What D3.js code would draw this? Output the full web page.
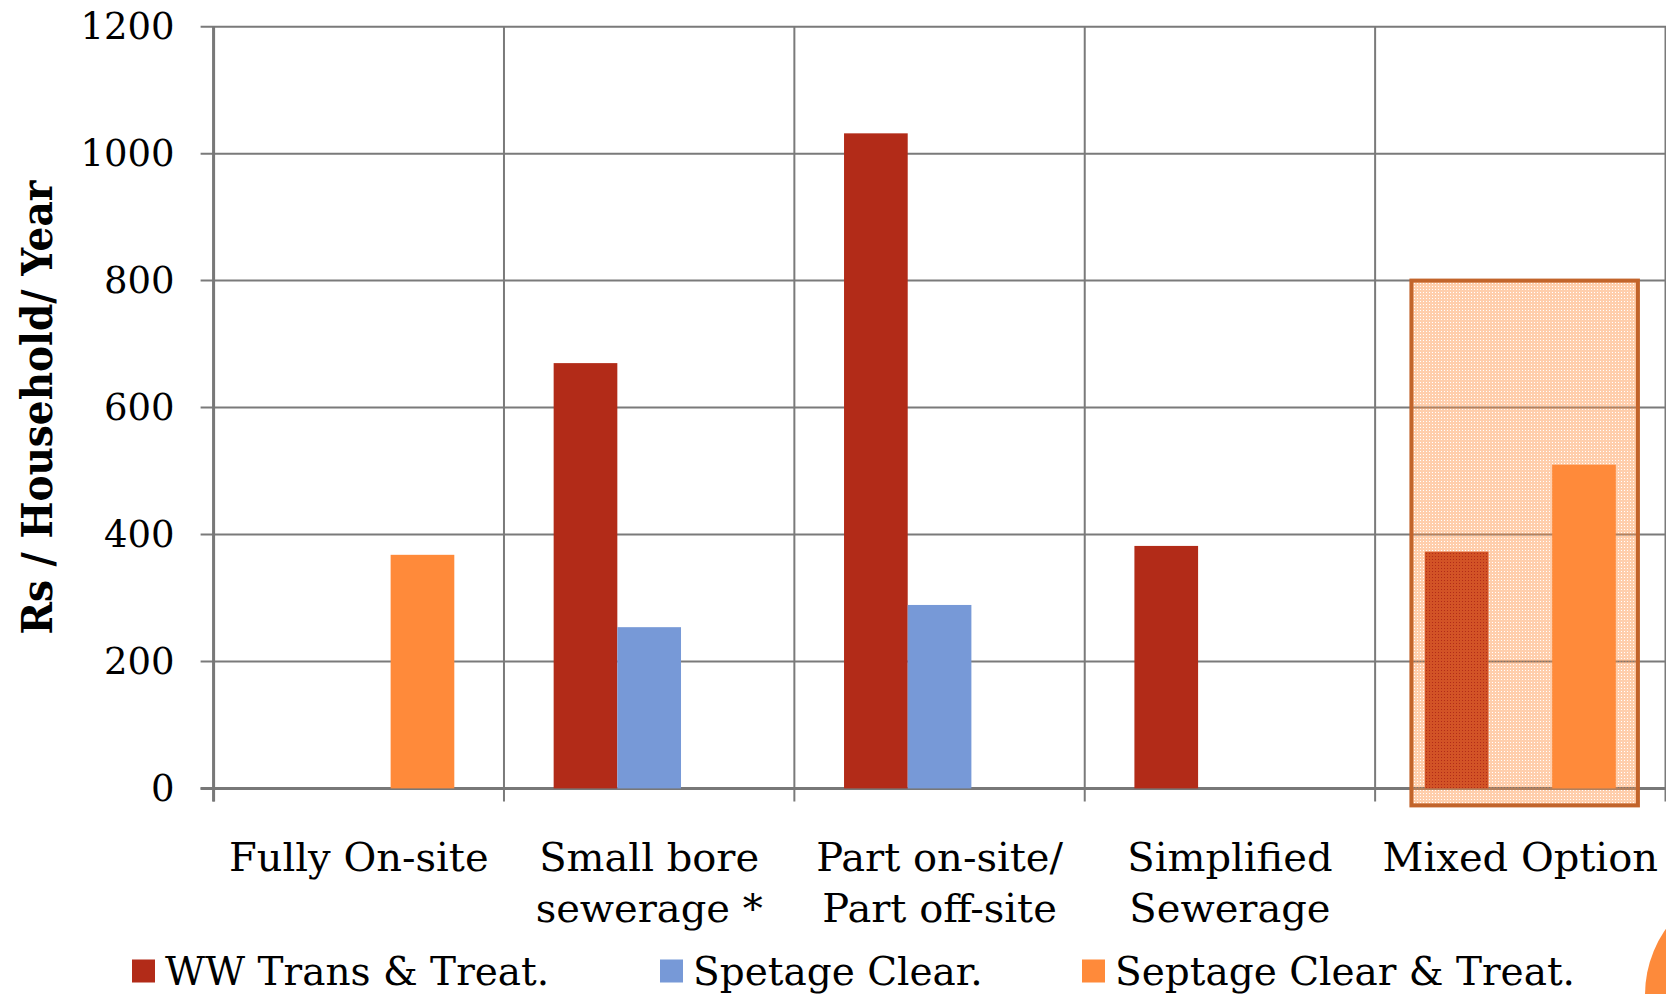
<!DOCTYPE html>
<html>
<head>
<meta charset="utf-8">
<script src="https://cdn.jsdelivr.net/npm/d3@7/dist/d3.min.js"></script>
<style>
  html, body { margin: 0; padding: 0; background: #ffffff; }
  svg { display: block; }
  text { font-family: "DejaVu Serif", "Liberation Serif", serif; fill: #000; }
</style>
</head>
<body>
<svg id="chart" width="1666" height="994"></svg>
<script>
// ---- data ----
const categories = ["Fully On-site", "Small bore sewerage *", "Part on-site/ Part off-site", "Simplified Sewerage", "Mixed Option"];
const categoryLines = [["Fully On-site"], ["Small bore", "sewerage *"], ["Part on-site/", "Part off-site"], ["Simplified", "Sewerage"], ["Mixed Option"]];
const seriesNames = ["WW Trans & Treat.", "Spetage Clear.", "Septage Clear & Treat."];
const wwTransTreat = [null, 670, 1032, 382, 373];
const spetageClear = [null, 254, 289, null, null];
const septageClearTreat = [368, null, null, null, 510];
const yTicks = [0, 200, 400, 600, 800, 1000, 1200];
const highlightCategory = "Mixed Option";
const highlightTop = 800;

// ---- layout ----
const W = 1666, H = 994;
const plotLeft = 213.6, plotRight = 1665.5, plotTop = 26.7, plotBottom = 788.4;
const colors = { "WW Trans & Treat.": "#B22B18", "Spetage Clear.": "#7799D7", "Septage Clear & Treat.": "#FF8A3A" };
const gridColor = "#7a7a7a";

const seriesValues = [wwTransTreat, spetageClear, septageClearTreat];
const rows = [];
seriesValues.forEach((vals, si) => vals.forEach((v, ci) => {
  if (v != null) rows.push({ series: seriesNames[si], category: categories[ci], value: v });
}));

const svg = d3.select("#chart");

const x = d3.scaleBand().domain(categories).range([plotLeft, plotRight]).paddingInner(0).paddingOuter(0);
const xs = d3.scaleBand().domain(seriesNames).range([0, x.bandwidth()]).paddingInner(0).paddingOuter(0.78);
const y = d3.scaleLinear().domain([0, 1200]).range([plotBottom, plotTop]);

// squeeze a text element horizontally by a factor
function condense(sel, f) {
  sel.each(function () {
    const len = this.getComputedTextLength();
    d3.select(this).attr("textLength", len * f).attr("lengthAdjust", "spacingAndGlyphs");
  });
}

// horizontal gridlines (extend left past the axis as tick marks)
svg.append("g")
  .selectAll("line")
  .data(yTicks)
  .join("line")
  .attr("x1", plotLeft - 13).attr("x2", W)
  .attr("y1", d => y(d)).attr("y2", d => y(d))
  .attr("stroke", gridColor).attr("stroke-width", 2);

// vertical gridlines at category boundaries, extending below the axis as ticks
const boundaries = categories.map(c => x(c)).concat([x(categories[categories.length - 1]) + x.bandwidth()]);
svg.append("g")
  .selectAll("line")
  .data(boundaries)
  .join("line")
  .attr("x1", d => d).attr("x2", d => d)
  .attr("y1", plotTop).attr("y2", plotBottom + 13)
  .attr("stroke", gridColor).attr("stroke-width", 2);

// axis lines
svg.append("line").attr("x1", plotLeft).attr("x2", plotLeft).attr("y1", plotTop).attr("y2", plotBottom + 13)
  .attr("stroke", "#787878").attr("stroke-width", 3);
svg.append("line").attr("x1", plotLeft - 13).attr("x2", W).attr("y1", plotBottom).attr("y2", plotBottom)
  .attr("stroke", "#787878").attr("stroke-width", 3);

// y tick labels
const yAxis = d3.axisLeft(y).tickValues(yTicks).tickSize(13).tickPadding(26).tickFormat(d3.format("d"));
const ya = svg.append("g").attr("transform", `translate(${plotLeft},0)`).call(yAxis);
ya.select(".domain").remove();
ya.selectAll(".tick line").remove();
ya.selectAll(".tick text")
  .attr("font-family", "DejaVu Serif").attr("font-size", 37).attr("fill", "#000");

// bars
svg.append("g")
  .selectAll("rect")
  .data(rows)
  .join("rect")
  .attr("x", d => x(d.category) + xs(d.series))
  .attr("width", xs.bandwidth())
  .attr("y", d => y(d.value))
  .attr("height", d => y(0) - y(d.value))
  .attr("fill", d => colors[d.series]);

// dotted translucent fill for the highlight box
const defs = svg.append("defs");
const pat = defs.append("pattern").attr("id", "dots").attr("patternUnits", "userSpaceOnUse")
  .attr("width", 3).attr("height", 3);
pat.append("path").attr("d", "M0,0H3V3H0Z M1,1V2H2V1Z").attr("fill-rule", "evenodd")
  .attr("fill", "#FF8A3A").attr("fill-opacity", 0.42);

const bx0 = x(highlightCategory) + x.bandwidth() * 0.125;
const bx1 = x(highlightCategory) + x.bandwidth() * 0.905;
svg.append("rect")
  .attr("x", bx0).attr("y", y(highlightTop))
  .attr("width", bx1 - bx0).attr("height", y(0) + 17 - y(highlightTop))
  .attr("fill", "url(#dots)")
  .attr("stroke", "#C2642B").attr("stroke-width", 4);

// category labels
const xl = svg.append("g");
categories.forEach((c, i) => {
  const cx = x(c) + x.bandwidth() / 2;
  const t = xl.append("text")
    .attr("x", cx)
    .attr("y", 871)
    .attr("text-anchor", "middle")
    .attr("font-size", 40);
  categoryLines[i].forEach((line, j) => {
    t.append("tspan").attr("x", cx).attr("dy", j === 0 ? 0 : 51).text(line);
  });
});

// y axis title
svg.append("text")
  .attr("transform", `translate(52,${(plotTop + plotBottom) / 2}) rotate(-90)`)
  .attr("text-anchor", "middle")
  .attr("font-size", 42).attr("font-weight", "bold")
  .text("Rs / Household/ Year")
  .call(condense, 0.93);

// legend
const legendX = [132, 660, 1082];
const lg = svg.append("g");
seriesNames.forEach((s, i) => {
  lg.append("rect").attr("x", legendX[i]).attr("y", 959.5).attr("width", 23).attr("height", 23).attr("fill", colors[s]);
  lg.append("text").attr("x", legendX[i] + 33).attr("y", 985).attr("font-size", 40).text(s).call(condense, 0.975);
});

// slide decoration in the corner
svg.append("circle").attr("cx", 1760).attr("cy", 995).attr("r", 115).attr("fill", "#FD8A3B");
</script>
</body>
</html>
